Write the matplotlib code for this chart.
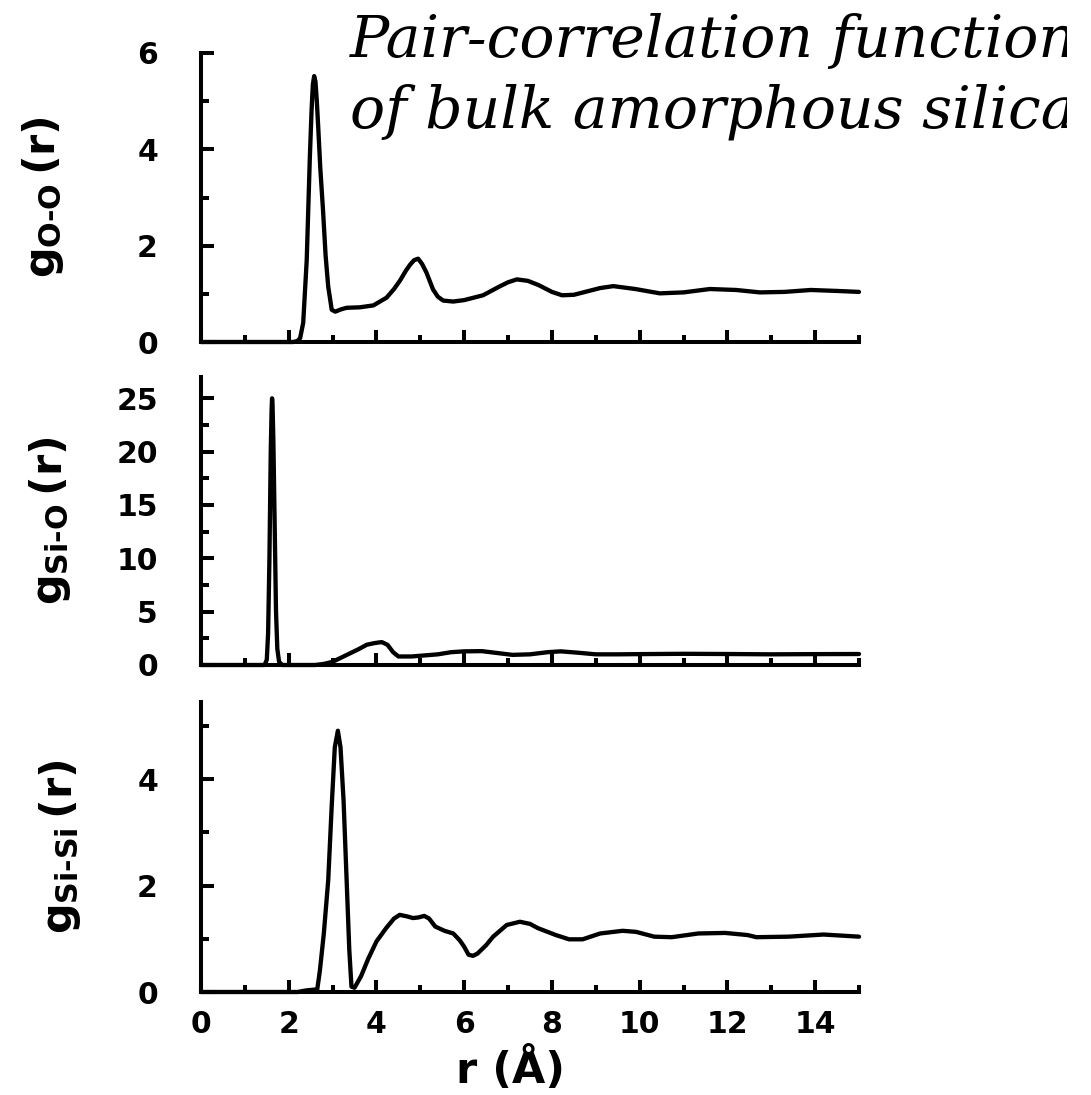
import matplotlib
matplotlib.use("Agg")
import matplotlib.pyplot as plt
from matplotlib.ticker import MultipleLocator
from matplotlib.transforms import Bbox, TransformedBbox

# ---------------- data ----------------
r_oo = [0.0, 2.10, 2.20, 2.26, 2.33, 2.41, 2.48, 2.52, 2.55, 2.58, 2.61, 2.64,
        2.67, 2.72, 2.78, 2.84, 2.90, 2.98, 3.06, 3.20, 3.32, 3.62, 3.93, 4.23,
        4.40, 4.54, 4.67, 4.77, 4.86, 4.95, 5.04, 5.14, 5.29, 5.40, 5.52, 5.75,
        6.00, 6.43, 6.80, 7.00, 7.20, 7.45, 7.70, 8.00, 8.23, 8.50, 8.80, 9.10,
        9.40, 9.90, 10.46, 11.00, 11.60, 12.20, 12.74, 13.30, 13.90, 14.50, 15.00]
g_oo = [0.0, 0.0, 0.02, 0.08, 0.40, 1.70, 3.80, 4.80, 5.35, 5.52, 5.40, 5.00,
        4.50, 3.60, 2.76, 1.80, 1.15, 0.67, 0.63, 0.68, 0.71, 0.72, 0.76, 0.92,
        1.10, 1.28, 1.48, 1.61, 1.70, 1.73, 1.62, 1.44, 1.09, 0.94, 0.86, 0.84,
        0.87, 0.97, 1.15, 1.24, 1.30, 1.27, 1.18, 1.04, 0.97, 0.98, 1.05, 1.12,
        1.16, 1.10, 1.01, 1.03, 1.10, 1.08, 1.03, 1.04, 1.08, 1.06, 1.04]

r_sio = [0.0, 1.45, 1.50, 1.53, 1.56, 1.59, 1.61, 1.62, 1.63, 1.65, 1.68, 1.71,
         1.74, 1.78, 1.85, 2.60, 2.80, 3.00, 3.20, 3.40, 3.60, 3.78, 3.95, 4.12,
         4.25, 4.38, 4.50, 4.80, 5.10, 5.40, 5.70, 6.00, 6.40, 6.80, 7.10, 7.50,
         7.90, 8.20, 8.60, 9.00, 9.50, 10.00, 11.00, 12.00, 13.00, 14.00, 15.00]
g_sio = [0.0, 0.0, 0.5, 3.0, 10.0, 20.0, 24.0, 25.0, 24.5, 21.0, 13.0, 5.0,
         1.5, 0.3, 0.0, 0.0, 0.1, 0.3, 0.7, 1.1, 1.5, 1.9, 2.05, 2.15,
         1.9, 1.2, 0.8, 0.8, 0.9, 1.0, 1.2, 1.28, 1.3, 1.1, 0.95, 1.0,
         1.2, 1.28, 1.15, 1.0, 1.0, 1.02, 1.05, 1.03, 1.0, 1.02, 1.03]

r_sisi = [0.0, 2.20, 2.40, 2.65, 2.71, 2.80, 2.90, 2.98, 3.05, 3.12, 3.18, 3.25,
          3.32, 3.38, 3.43, 3.50, 3.65, 3.81, 4.00, 4.22, 4.40, 4.53, 4.70, 4.83,
          4.95, 5.09, 5.20, 5.34, 5.55, 5.75, 5.90, 6.00, 6.10, 6.20, 6.30, 6.50,
          6.66, 6.97, 7.27, 7.50, 7.68, 8.09, 8.39, 8.70, 9.10, 9.61, 9.92, 10.33,
          10.73, 11.34, 11.95, 12.46, 12.66, 13.40, 14.19, 15.00]
g_sisi = [0.0, 0.0, 0.03, 0.05, 0.40, 1.10, 2.10, 3.50, 4.60, 4.91, 4.60, 3.60,
          2.10, 0.80, 0.10, 0.08, 0.30, 0.62, 0.95, 1.20, 1.38, 1.45, 1.42, 1.39,
          1.40, 1.43, 1.38, 1.23, 1.15, 1.10, 0.97, 0.85, 0.70, 0.68, 0.72, 0.88,
          1.04, 1.26, 1.32, 1.28, 1.20, 1.07, 0.99, 0.99, 1.10, 1.15, 1.13, 1.04,
          1.03, 1.10, 1.11, 1.07, 1.03, 1.04, 1.08, 1.04]

ylabels = [r"$g_{\text{O-O}}\,(r)$", r"$g_{\text{Si-O}}\,(r)$", r"$g_{\text{Si-Si}}\,(r)$"]
ylims = [(0, 6), (0, 27), (0, 5.45)]
ymajor = [2, 5, 2]
yminor = [1, 2.5, 1]
title_lines = ["Pair-correlation functions", "of bulk amorphous silica"]
xlabel = "r (Å)"

# ---------------- style ----------------
plt.rcParams["font.family"] = ["DejaVu Sans"]
plt.rcParams["font.weight"] = "bold"
plt.rcParams["mathtext.fontset"] = "custom"
plt.rcParams["mathtext.rm"] = "DejaVu Sans:bold"
plt.rcParams["mathtext.it"] = "DejaVu Sans:bold"
plt.rcParams["mathtext.bf"] = "DejaVu Sans:bold"
plt.rcParams["mathtext.sf"] = "DejaVu Sans:bold"

W, H = 1091, 1095
fig = plt.figure(figsize=(W / 100, H / 100), dpi=100)

def fx(px):
    return px / W

def fy(py):
    return 1 - py / H

left, right = 201, 859
panels = [(53, 342), (377, 665), (702, 992)]
label_x = [-0.205, -0.195, -0.18]
series = [(r_oo, g_oo), (r_sio, g_sio), (r_sisi, g_sisi)]

axes = []
for i, ((top, bot), (rx, gy)) in enumerate(zip(panels, series)):
    ax = fig.add_axes([fx(left), fy(bot), fx(right) - fx(left), (bot - top) / H])
    ax.plot(rx, gy, color="black", lw=3.1, solid_joinstyle="round",
            solid_capstyle="round", clip_on=False)
    ax.set_xlim(0, 15)
    ax.set_ylim(*ylims[i])
    for s in ("top", "right"):
        ax.spines[s].set_visible(False)
    for s in ("left", "bottom"):
        ax.spines[s].set_linewidth(2.9)
        ax.spines[s].set_capstyle("projecting")
    ax.xaxis.set_major_locator(MultipleLocator(2))
    ax.xaxis.set_minor_locator(MultipleLocator(1))
    ax.yaxis.set_major_locator(MultipleLocator(ymajor[i]))
    ax.yaxis.set_minor_locator(MultipleLocator(yminor[i]))
    ax.tick_params(axis="both", which="both", direction="in", width=2.9, labelsize=21.5)
    ax.tick_params(axis="y", which="major", length=9.5, pad=31)
    ax.tick_params(axis="y", which="minor", length=5.5)
    ax.tick_params(axis="x", which="major", length=9, pad=13)
    ax.tick_params(axis="x", which="minor", length=5)
    if i < 2:
        ax.tick_params(axis="x", labelbottom=False)
    ax.set_ylabel(ylabels[i], fontsize=31)
    ax.yaxis.set_label_coords(label_x[i], 0.5)
    axes.append(ax)

axes[2].set_xlabel(xlabel, fontsize=31, fontweight="bold")
axes[2].xaxis.set_label_coords(0.47, -0.19)

# the title in the reference runs past the right edge and is cut there
clip = TransformedBbox(Bbox([[0, 0], [1067 / W, 1]]), fig.transFigure)
for line, base in zip(title_lines, (57, 128)):
    t = fig.text(fx(350), fy(base), line, fontsize=42, family="DejaVu Serif",
                 style="italic", fontweight="normal", va="baseline", ha="left")
    t.set_clip_box(clip)
    t.set_clip_on(True)

fig.savefig("out.png", dpi=100)
